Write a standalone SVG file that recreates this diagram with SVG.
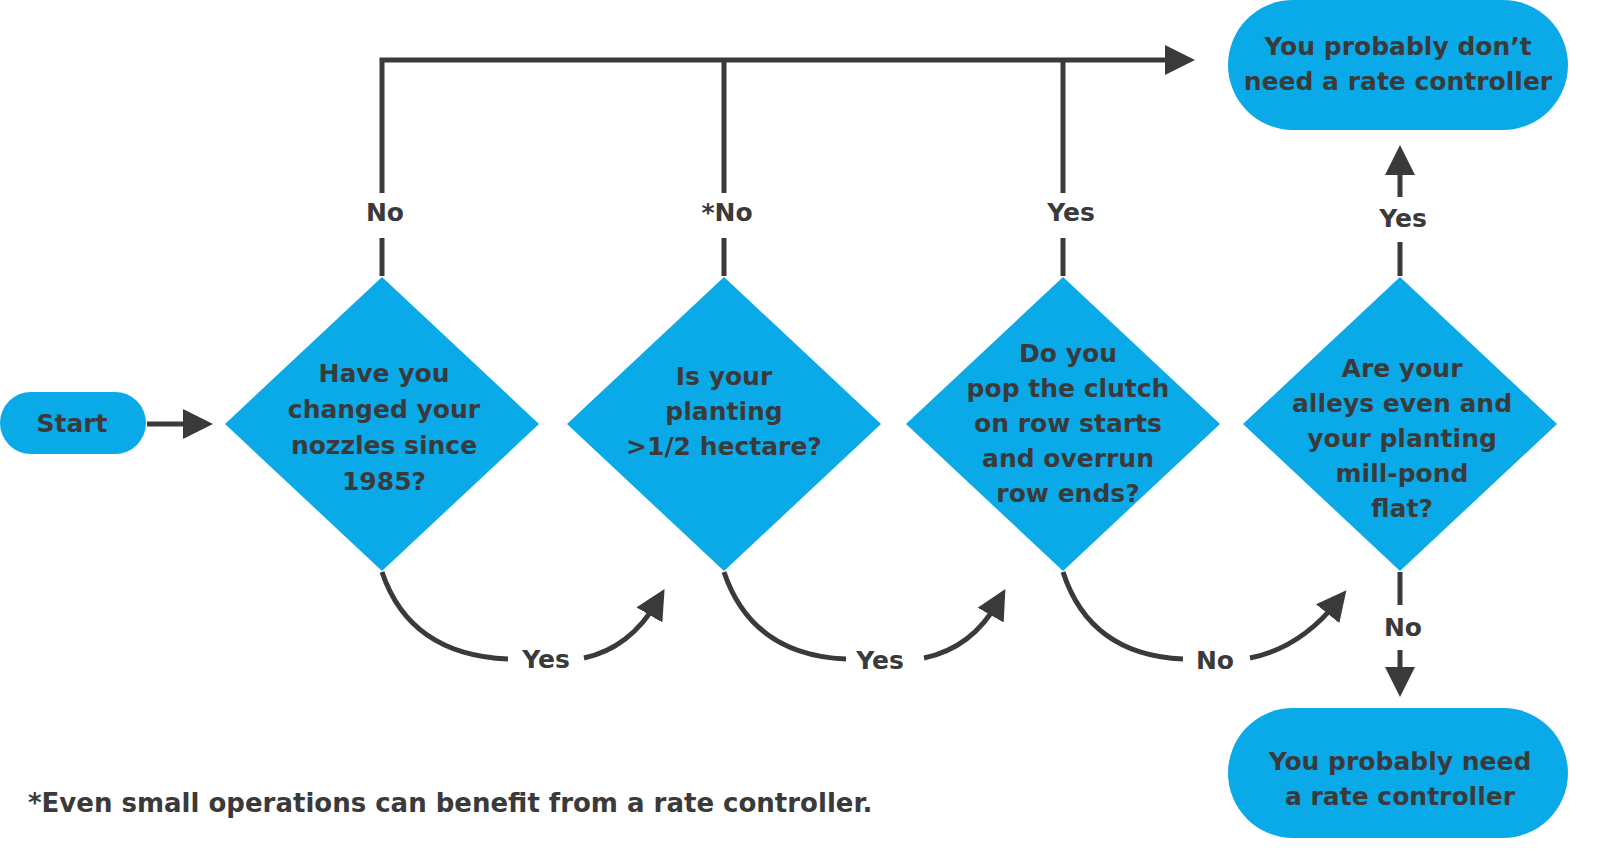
<svg xmlns="http://www.w3.org/2000/svg" width="1600" height="856" viewBox="0 0 1600 856">
<style>
.s{fill:#0aaae9}
.t{font-family:"DejaVu Sans",Verdana,sans-serif;font-weight:bold;font-size:25px;fill:#3a3a3a;text-anchor:middle}
.l{stroke:#3a3a3a;stroke-width:5;fill:none}
</style>
<defs>
<marker id="a" markerWidth="6" markerHeight="6" refX="3" refY="3" orient="auto" markerUnits="strokeWidth">
<path d="M0,0 L6,3 L0,6 z" fill="#3a3a3a"/>
</marker>
</defs>
<rect width="1600" height="856" fill="#fff"/>
<g id="connectors">
<path class="l" d="M147,424 H198" marker-end="url(#a)"/>
<path class="l" d="M382,193 V60 H1180" marker-end="url(#a)"/>
<path class="l" d="M382,276 V238"/>
<path class="l" d="M724,276 V238 M724,193 V60"/>
<path class="l" d="M1063,276 V238 M1063,193 V60"/>
<path class="l" d="M1400,276 V242"/>
<path class="l" d="M1400,197 V160" marker-end="url(#a)"/>
<path class="l" d="M1400,572 V605"/>
<path class="l" d="M1400,650 V682" marker-end="url(#a)"/>
<path class="l" d="M382,572 Q410,655 508,659"/>
<path class="l" d="M584,658 Q630,648 657,602" marker-end="url(#a)"/>
<path class="l" d="M724,572 Q752,655 846,659"/>
<path class="l" d="M924,658 Q972,648 998,602" marker-end="url(#a)"/>
<path class="l" d="M1063,572 Q1090,655 1183,659"/>
<path class="l" d="M1250,658 Q1300,648 1337,602" marker-end="url(#a)"/>
<text class="t" x="385" y="221">No</text>
<text class="t" x="727" y="221">*No</text>
<text class="t" x="1071" y="221">Yes</text>
<text class="t" x="1403" y="227">Yes</text>
<text class="t" x="1403" y="636">No</text>
<text class="t" x="546" y="668">Yes</text>
<text class="t" x="880" y="669">Yes</text>
<text class="t" x="1215" y="669">No</text>
</g>
<g id="start"><rect class="s" x="0" y="392" width="146" height="62" rx="31"/><text class="t" x="72" y="432">Start</text></g>
<g id="d1"><path class="s" d="M382,277 L539,424 L382,571 L225,424 z"/>
<text class="t" x="384" y="382">Have you</text><text class="t" x="384" y="418">changed your</text><text class="t" x="384" y="454">nozzles since</text><text class="t" x="384" y="490">1985?</text></g>
<g id="d2"><path class="s" d="M724,277 L881,424 L724,571 L567,424 z"/>
<text class="t" x="724" y="385">Is your</text><text class="t" x="724" y="420">planting</text><text class="t" x="724" y="455">&gt;1/2 hectare?</text></g>
<g id="d3"><path class="s" d="M1063,277 L1220,424 L1063,571 L906,424 z"/>
<text class="t" x="1068" y="362">Do you</text><text class="t" x="1068" y="397">pop the clutch</text><text class="t" x="1068" y="432">on row starts</text><text class="t" x="1068" y="467">and overrun</text><text class="t" x="1068" y="502">row ends?</text></g>
<g id="d4"><path class="s" d="M1400,277 L1557,424 L1400,571 L1243,424 z"/>
<text class="t" x="1402" y="377">Are your</text><text class="t" x="1402" y="412">alleys even and</text><text class="t" x="1402" y="447">your planting</text><text class="t" x="1402" y="482">mill-pond</text><text class="t" x="1402" y="517">flat?</text></g>
<g id="e1"><rect class="s" x="1228" y="0" width="340" height="130" rx="65"/>
<text class="t" x="1398" y="55">You probably don’t</text><text class="t" x="1398" y="90">need a rate controller</text></g>
<g id="e2"><rect class="s" x="1228" y="708" width="340" height="130" rx="65"/>
<text class="t" x="1400" y="770">You probably need</text><text class="t" x="1400" y="805">a rate controller</text></g>
<text class="t" x="28" y="812" style="text-anchor:start;font-size:26px">*Even small operations can benefit from a rate controller.</text>
</svg>
